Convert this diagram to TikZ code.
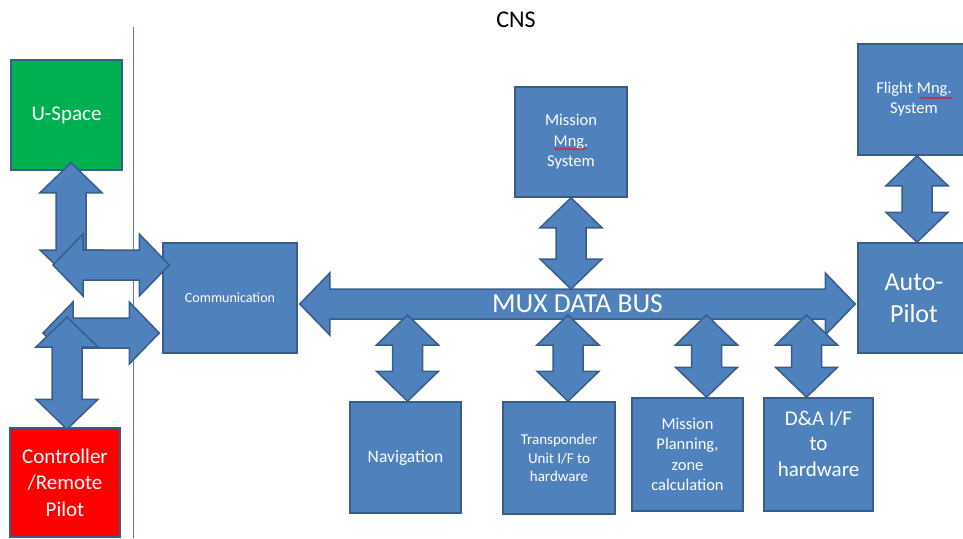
\documentclass[tikz,border=0pt]{standalone}
\usepackage{fontspec}
\setmainfont{Carlito}
\usetikzlibrary{calc,decorations.pathmorphing}

\definecolor{boxfill}{RGB}{79,129,189}
\definecolor{boxline}{RGB}{56,93,138}
\definecolor{uspacegreen}{RGB}{0,176,80}
\definecolor{pilotred}{RGB}{255,0,0}

\def\arrowShaftW{15}
\def\arrowHeadW{31}
\def\arrowHeadLen{30}

\tikzset{
  box/.style = {draw = boxline, fill = boxfill, line width = 1.5pt,
    text = white, align = center, inner sep = 0pt},
  boxtext/.style = {text = white, align = center, inner sep = 0pt},
  blockarrow/.style = {draw = boxline, fill = boxfill, line width = 1.5pt,
    line join = miter},
  spellline/.style = {draw = red, line width = 0.6pt, decorate,
    decoration = {snake, amplitude = 0.8pt, segment length = 3pt}},
}

%% fat double arrow from #1 to #2
\newcommand{\dblarrow}[2]{%
  \draw [blockarrow]
  let
  \p1 = (#1), \p2 = (#2),
  \n1 = {atan2(\y2-\y1,\x2-\x1)},
  \n2 = {veclen(\x2-\x1,\y2-\y1)}
  in
  [shift = {(\p1)}, rotate = \n1]
  (0,0) -- (\arrowHeadLen,\arrowHeadW) -- (\arrowHeadLen,\arrowShaftW)
  -- ({\n2-\arrowHeadLen},\arrowShaftW) -- ({\n2-\arrowHeadLen},\arrowHeadW)
  -- (\n2,0)
  -- ({\n2-\arrowHeadLen},-\arrowHeadW) -- ({\n2-\arrowHeadLen},-\arrowShaftW)
  -- (\arrowHeadLen,-\arrowShaftW) -- (\arrowHeadLen,-\arrowHeadW)
  -- cycle
  ;
}

\begin{document}
\begin{tikzpicture}[x = 1pt, y = -1pt]
  \clip (0,0) rectangle (963,538);
  %% divider
  \draw [boxfill, line width = 0.8pt] (133,27) -- (133,538);
  \node (cns) at (516,20) [font = \fontsize{24}{28}\selectfont] {CNS};
  %% outside
  \node (uspace) at (66.5,115) [box, fill = uspacegreen,
    minimum width = 111pt, minimum height = 110pt,
    font = \fontsize{21}{26}\selectfont] {U-Space};
  \node (ctrl) at (65,482.5) [box, fill = pilotred,
    minimum width = 110pt, minimum height = 109pt,
    font = \fontsize{21}{26.5}\selectfont] {Controller\\/Remote\\Pilot};
  %% on board
  \node (comm) at (230,298) [box, minimum width = 134pt, minimum height = 110pt,
    font = \fontsize{14}{17}\selectfont] {Communication};
  \node (mms) at (571,142) [box, minimum width = 112pt, minimum height = 110pt,
    font = \fontsize{16.5}{20.5}\selectfont] {Mission\\Mng.\\System};
  \node (fms) at (914,99.5) [box, minimum width = 112pt, minimum height = 111pt,
    font = \fontsize{16.5}{20}\selectfont] {Flight Mng.\\System};
  \node (auto) at (914,298) [box, minimum width = 112pt, minimum height = 110pt,
    font = \fontsize{26}{32}\selectfont] {Auto-\\Pilot};
  \node (nav) at (405.5,457.5) [box, minimum width = 111pt, minimum height = 111pt,
    font = \fontsize{17.5}{21}\selectfont] {Navigation};
  \node (trans) at (559,458) [box, minimum width = 112pt, minimum height = 112pt,
    font = \fontsize{15}{18.5}\selectfont] {Transponder\\Unit I/F to\\hardware};
  \node (mplan) at (687.5,454.5) [box, minimum width = 111pt, minimum height = 113pt,
    font = \fontsize{16.5}{20.5}\selectfont] {Mission\\Planning,\\zone\\calculation};
  \node (dna) at (818.5,454.5) [box, minimum width = 109pt, minimum height = 113pt] {};
  \node (dnatext) at ([yshift = 11pt]dna.center) [boxtext,
    font = \fontsize{21}{25.5}\selectfont] {D\&A I/F\\to\\hardware};
  \draw [spellline] ([shift = {(-17,7)}]mms.center) -- ++(33,0);
  \draw [spellline] ([shift = {(6,-1.5)}]fms.center) -- ++(33,0);
  %% bus
  \coordinate (busL) at ([shift = {(2,6)}]comm.east);
  \coordinate (busR) at ([shift = {(-2,6)}]auto.west);
  \coordinate (bustop) at (0,289);
  \coordinate (busbot) at (0,315);
  \dblarrow{busL}{busR}
  \node (busname) at ($(busL)!0.5!(busR)$) [boxtext,
    font = \fontsize{27.5}{31}\selectfont] {MUX DATA BUS};
  \dblarrow{mms.south}{mms.south |- bustop}
  \foreach \unit/\off in {nav/2, trans/9, mplan/19, dna/-12} {
    \coordinate (\unit-up) at ([xshift = \off pt]\unit.north);
    \dblarrow{\unit-up |- busbot}{\unit-up}
  }
  \coordinate (fms-dn) at ([xshift = 3pt]fms.south);
  \dblarrow{fms-dn}{fms-dn |- auto.north}
  %% links to ground
  \coordinate (uspace-dn) at ([shift = {(4.5,-8)}]uspace.south);
  \coordinate (uspace-end) at (71,280);
  \dblarrow{uspace-dn}{uspace-end}
  \coordinate (uspace-link) at (53,265);
  \dblarrow{uspace-link}{[shift = {(7,-33)}]comm.west}
  \coordinate (ctrl-link) at (43,333);
  \dblarrow{ctrl-link}{[shift = {(-3,35)}]comm.west}
  \coordinate (ctrl-up) at ([shift = {(2,2)}]ctrl.north);
  \coordinate (ctrl-end) at (67,317);
  \dblarrow{ctrl-end}{ctrl-up}
\end{tikzpicture}
\end{document}
